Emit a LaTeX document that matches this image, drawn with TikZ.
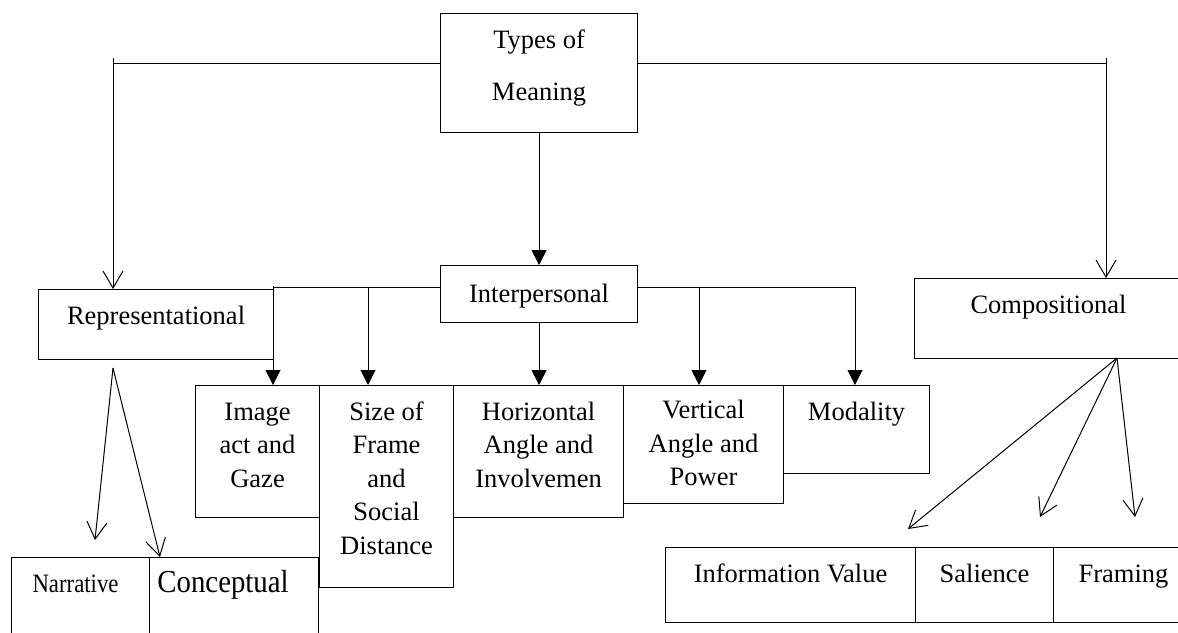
\documentclass[tikz,border=0pt]{standalone}
\usepackage{fontspec}
\setmainfont{Liberation Serif}
\usetikzlibrary{positioning,arrows.meta}

\begin{document}
\begin{tikzpicture}[
		x=1pt, y=-1pt,
		node distance=11.5pt,
		box/.style={draw, line width=1.1pt, inner sep=0pt, anchor=north west},
		txt/.style={align=center, anchor=north, inner sep=0pt, font=\fontsize{26.5}{33.5}\selectfont},
		link/.style={line width=1pt},
		tri/.style={link, -{Triangle[length=15pt,width=15pt]}},
		barb/.style={link, -{Straight Barb[length=17pt,width=20pt]}}
	]
  \useasboundingbox (0,0) rectangle (1178,632);
  \clip (0,0) rectangle (1178,632);
  % top
  \node (types) [box, minimum width=197pt, minimum height=119pt] at (440,13) {};
  \node (types_label) [txt, below=of types.north] {\strut Types of\\[18.5pt]Meaning};
  % second level
  \node (rep) [box, minimum width=235pt, minimum height=70pt] at (38,289) {};
  \node (rep_label) [txt, below=of rep.north] {\strut Representational};
  \node (inter) [box, minimum width=197pt, minimum height=57pt] at (440,265) {};
  \node (inter_label) [txt, below=13.5pt of inter.north] {\strut Interpersonal};
  \node (comp) [box, minimum width=268pt, minimum height=80pt] at (914,278) {};
  \node (comp_label) [txt, below=of comp.north] {\strut Compositional};
  % interpersonal row
  \node (gaze) [box, minimum width=124pt, minimum height=132pt] at (195,385) {};
  \node (gaze_label) [txt, below=of gaze.north] {\strut Image\\act and\\Gaze};
  \node (size) [box, minimum width=134pt, minimum height=202pt] at (319,385) {};
  \node (size_label) [txt, below=of size.north] {\strut Size of\\Frame\\and\\Social\\Distance};
  \node (horiz) [box, minimum width=170pt, minimum height=132pt] at (453,385) {};
  \node (horiz_label) [txt, below=of horiz.north] {\strut Horizontal\\Angle and\\Involvemen};
  \node (vert) [box, minimum width=160pt, minimum height=118pt] at (623,385) {};
  \node (vert_label) [txt, below=10pt of vert.north] {\strut Vertical\\Angle and\\Power};
  \node (modal) [box, minimum width=146pt, minimum height=88pt] at (783,385) {};
  \node (modal_label) [txt, below=of modal.north] {\strut Modality};
  % representational row
  \node (narr) [box, minimum width=138pt, minimum height=83pt] at (11,557) {};
  \node (narr_label) [txt, below=of narr.north, xshift=-5pt] {\strut\scalebox{0.86}[1]{Narrative}};
  \node (concept) [box, minimum width=169pt, minimum height=83pt] at (149,557) {};
  \node (concept_label) [txt, below=12pt of concept.north, xshift=-11pt, font=\fontsize{32}{33.5}\selectfont] {\strut\scalebox{0.9}[1]{Conceptual}};
  % compositional row
  \node (info) [box, minimum width=250pt, minimum height=75pt] at (665,547) {};
  \node (info_label) [txt, below=of info.north] {\strut Information Value};
  \node (sal) [box, minimum width=138pt, minimum height=75pt] at (915,547) {};
  \node (sal_label) [txt, below=of sal.north] {\strut Salience};
  \node (frame) [box, minimum width=140pt, minimum height=75pt] at (1053,547) {};
  \node (frame_label) [txt, below=of frame.north] {\strut Framing};

  % points where the lines split
  \coordinate (lbus) at (113,63);
  \coordinate (ltop) at (113,58);
  \coordinate (rbus) at (1106,63);
  \coordinate (rtop) at (1106,58);
  \coordinate (gz) at (273,286);
  \coordinate (sz) at (368,287);
  \coordinate (va) at (699,287);
  \coordinate (md) at (855,287);
  \coordinate (rs) at (113,368);
  \coordinate (nt) at (95,540);
  \coordinate (ct) at (160,557);
  \coordinate (cs) at (1117,358);
  \coordinate (it) at (908,529);
  \coordinate (st) at (1040,517);
  \coordinate (ft) at (1135,517);

  \draw [link] (types.west |- lbus) -- (lbus);
  \draw [barb] (ltop) -- (ltop |- rep.north);
  \draw [link] (types.east |- rbus) -- (rbus);
  \draw [barb] (rtop) -- (rtop |- comp.north);
  \draw [tri] (types.south) -- (inter.north);

  \draw [link] (inter.west |- sz) -- (gz |- sz);
  \draw [tri] (gz) -- (gz |- gaze.north);
  \draw [tri] (sz) -- (sz |- size.north);
  \draw [tri] (inter.south) -- (inter.south |- horiz.north);
  \draw [link] (inter.east |- va) -- (md);
  \draw [tri] (va) -- (va |- vert.north);
  \draw [tri] (md) -- (md |- modal.north);

  \draw [barb] (rs) -- (nt);
  \draw [barb] (rs) -- (ct);
  \draw [barb] (cs) -- (it);
  \draw [barb] (cs) -- (st);
  \draw [barb] (cs) -- (ft);
\end{tikzpicture}
\end{document}
